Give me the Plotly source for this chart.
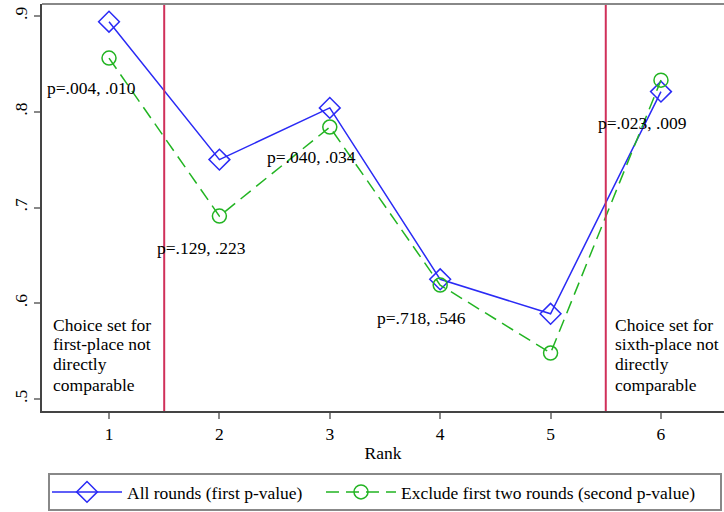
import plotly.graph_objects as go

ranks = [1, 2, 3, 4, 5, 6]
all_rounds = [0.894, 0.750, 0.804, 0.625, 0.589, 0.821]
excl_two = [0.856, 0.691, 0.784, 0.619, 0.548, 0.833]
pvals = ["p=.004, .010", "p=.129, .223", "p=.040, .034", "p=.718, .546", "p=.023, .009"]
p_x = [0.42, 1.417, 2.413, 3.41, 5.411]
p_y = [0.825, 0.658, 0.753, 0.585, 0.788]
left_note = ["Choice set for", "first-place not", "directly", "comparable"]
right_note = ["Choice set for", "sixth-place not", "directly", "comparable"]
note_y = [0.577, 0.557, 0.537, 0.5145]
y_ticks = [0.5, 0.6, 0.7, 0.8, 0.9]
y_ticklabels = [".5", ".6", ".7", ".8", ".9"]
cut_lines = [1.5, 5.5]

FONT = "Liberation Serif"
FS = 17.5
BLUE = "#2a2af5"
GREEN = "#22b422"
RED = "#d0305a"

fig = go.Figure()
fig.add_trace(go.Scatter(
    x=ranks, y=all_rounds, mode="lines+markers",
    name="All rounds (first p-value)", legend="legend",
    line=dict(color=BLUE, width=1.5),
    marker=dict(symbol="diamond-open", size=16, color=BLUE, line=dict(width=1.5, color=BLUE)),
))
fig.add_trace(go.Scatter(
    x=ranks, y=excl_two, mode="lines+markers",
    name="Exclude first two rounds (second p-value)", legend="legend2",
    line=dict(color=GREEN, width=1.5, dash="13px,7px"),
    marker=dict(symbol="circle-open", size=14, color=GREEN, line=dict(width=1.5, color=GREEN)),
))

for xv in cut_lines:
    fig.add_shape(type="line", x0=xv, x1=xv, y0=0, y1=1, xref="x", yref="paper",
                  line=dict(color=RED, width=2))

for t, xv, yv in zip(pvals, p_x, p_y):
    fig.add_annotation(x=xv, y=yv, text=t, showarrow=False, xanchor="left", yanchor="middle",
                       font=dict(family=FONT, size=FS, color="black"))

for notes, xv in ((left_note, 0.484), (right_note, 5.573)):
    for t, yv in zip(notes, note_y):
        fig.add_annotation(x=xv, y=yv, text=t, showarrow=False, xanchor="left", yanchor="middle",
                           borderpad=0, font=dict(family=FONT, size=FS, color="black"))

# top frame line
fig.add_shape(type="line", x0=0, x1=1, y0=1, y1=1, xref="paper", yref="paper",
              line=dict(color="#888888", width=2))
# legend box
fig.add_shape(type="rect", x0=(49 - 42) / 682, x1=(721 - 42) / 682,
              y0=(411 - 474) / 407, y1=(411 - 510) / 407, xref="paper", yref="paper",
              line=dict(color="#888888", width=2), fillcolor="rgba(0,0,0,0)")

leg_common = dict(orientation="h", xanchor="left", y=(411 - 492) / 407, yanchor="middle",
                  itemwidth=70, font=dict(family=FONT, size=FS, color="black"),
                  bgcolor="rgba(0,0,0,0)")

fig.update_layout(
    width=724, height=512,
    margin=dict(l=42, r=0, t=4, b=101),
    plot_bgcolor="white", paper_bgcolor="white",
    font=dict(family=FONT, size=FS, color="black"),
    showlegend=True,
    legend=dict(x=(47 - 42) / 682, **leg_common),
    legend2=dict(x=(47 + 274 - 42) / 682, **leg_common),
    xaxis=dict(range=[0.393, 6.571], tickvals=ranks, ticktext=[str(r) for r in ranks],
               showgrid=False, zeroline=False, showline=True, linecolor="#444444", linewidth=2,
               ticks="outside", ticklen=6, tickcolor="#888888", tickwidth=1.5,
               title=dict(text="Rank", font=dict(family=FONT, size=FS), standoff=4),
               tickfont=dict(family=FONT, size=FS)),
    yaxis=dict(range=[0.4875, 0.9125], tickvals=y_ticks, ticktext=y_ticklabels,
               showgrid=False, zeroline=False, showline=True, linecolor="#444444", linewidth=2,
               ticks="outside", ticklen=6, tickcolor="#888888", tickwidth=1.5, tickangle=-90,
               tickfont=dict(family=FONT, size=FS)),
)

fig.write_html("out.html", config={"displayModeBar": False},
               post_script="document.body.style.margin='0';")
